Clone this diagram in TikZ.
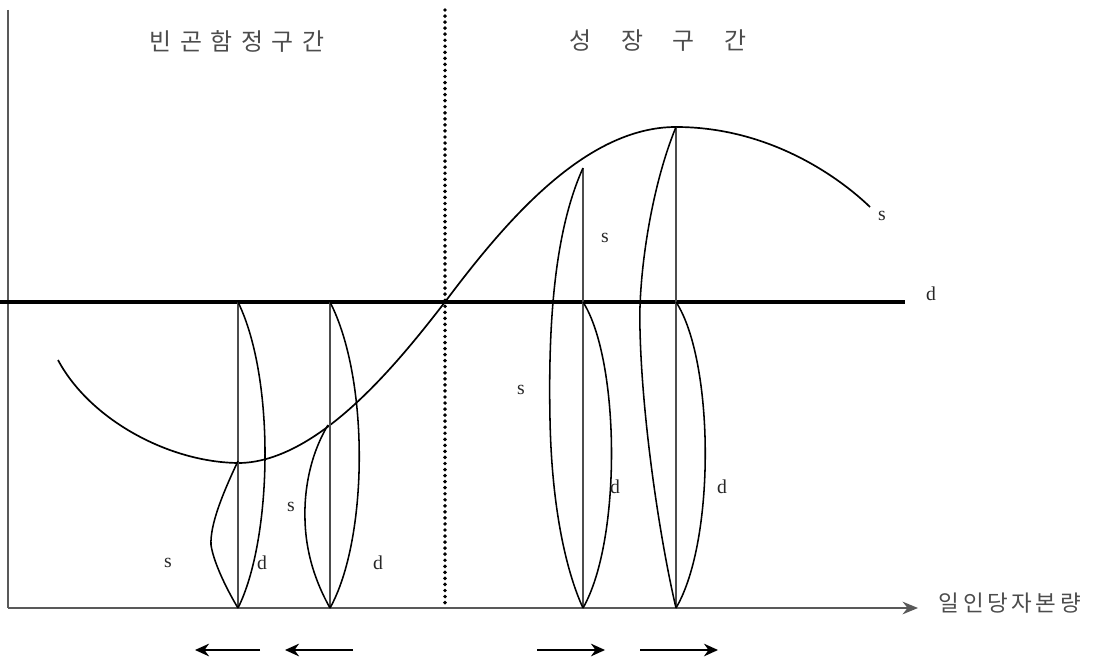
\documentclass[tikz,border=0pt]{standalone}
\usepackage{fontspec}
\setmainfont{Liberation Serif}
\newfontfamily\krfont{Noto Sans CJK KR}
\usetikzlibrary{arrows.meta}
\tikzset{
  axis/.style={draw=black!65, line width=1.1pt},
  dline/.style={line width=2.8pt},
  scurve/.style={line width=1.2pt},
  lens/.style={line width=1.1pt},
  stem/.style={draw=black!70, line width=1pt},
  lbl/.style={font=\fontsize{14}{16}\selectfont, text=black!85},
  krlbl/.style={font=\krfont\fontsize{16}{18}\selectfont, text=black!70},
  movearr/.style={-{Stealth[length=10pt,width=9pt]}, line width=1.1pt}
}

\begin{document}
\begin{tikzpicture}[x=0.025cm,y=-0.025cm]
  \useasboundingbox (0,0) rectangle (1109,662);
  % axes
  \coordinate (ytop) at (8,10);
  \coordinate (orig) at (8,608);
  \coordinate (xend) at (918,608);
  \draw[axis] (ytop) -- (orig);
  \draw[axis,-{Stealth[length=11pt,width=9pt]}] (orig) -- (xend);
  \node[krlbl,anchor=west] (xlab) at (934,603) {일\hspace{2.5pt}인\hspace{2.5pt}당\hspace{2.5pt}자\hspace{2.5pt}본\hspace{2.5pt}량};
  % zone split and titles
  \draw[line width=2.8pt, dash pattern=on 0pt off 4.3pt, line cap=round] (445,10) -- (445,608);
  \node[krlbl,font=\krfont\fontsize{17}{20}\selectfont] (poor) at (237,41) {빈\hspace{6pt}곤\hspace{6pt}함\hspace{6pt}정\hspace{6pt}구\hspace{6pt}간};
  \node[krlbl,font=\krfont\fontsize{17}{20}\selectfont] (grow) at (658,41) {성\hspace{21pt}장\hspace{21pt}구\hspace{21pt}간};
  % d line
  \draw[dline] (0,302) -- (905,302);
  \node[lbl] (dlab) at (931,294) {d};
  % s curve
  \draw[scurve] (58,360) .. controls (90,420) and (170,463) .. (240,463)
    .. controls (320,461) and (400,360) .. (445,302)
    .. controls (505,222) and (585,127) .. (676,127)
    .. controls (770,127) and (840,178) .. (870,207);
  \node[lbl] (slab) at (882,216) {s};
  % stems
  \foreach \x/\t in {238/302,330/302,583/168,676/127}{
    \draw[stem] (\x,\t) -- (\x,608);
  }
  % poverty trap lenses
  \draw[lens] (238,302) .. controls (276,380) and (272,540) .. (238,608);
  \draw[lens] (238,461) .. controls (222,495) and (210,525) .. (211,545)
    .. controls (214,565) and (230,595) .. (238,608);
  \draw[lens] (330,302) .. controls (370,380) and (368,540) .. (330,608);
  \draw[lens] (328,425) .. controls (310,455) and (304,490) .. (305,520)
    .. controls (306,560) and (320,590) .. (330,608);
  % growth lenses
  \draw[lens] (583,168) .. controls (555,230) and (548,320) .. (550,420)
    .. controls (552,520) and (570,580) .. (583,608);
  \draw[lens] (583,302) .. controls (620,360) and (622,540) .. (583,608);
  \draw[lens] (676,127) .. controls (650,190) and (638,280) .. (640,330)
    .. controls (642,420) and (660,540) .. (676,608);
  \draw[lens] (676,302) .. controls (714,360) and (716,540) .. (676,608);
  % labels
  \node[lbl] (s1) at (168,563) {s};
  \node[lbl] (d1) at (262,563) {d};
  \node[lbl] (s2) at (291,507) {s};
  \node[lbl] (d2) at (378,563) {d};
  \node[lbl] (s3) at (605,238) {s};
  \node[lbl] (s4) at (521,390) {s};
  \node[lbl] (d3) at (615,487) {d};
  \node[lbl] (d4) at (722,487) {d};
  % shifts
  \foreach \a/\b in {260/195,353/285,537/605,640/718}{
    \draw[movearr] (\a,650) -- (\b,650);
  }
\end{tikzpicture}
\end{document}
